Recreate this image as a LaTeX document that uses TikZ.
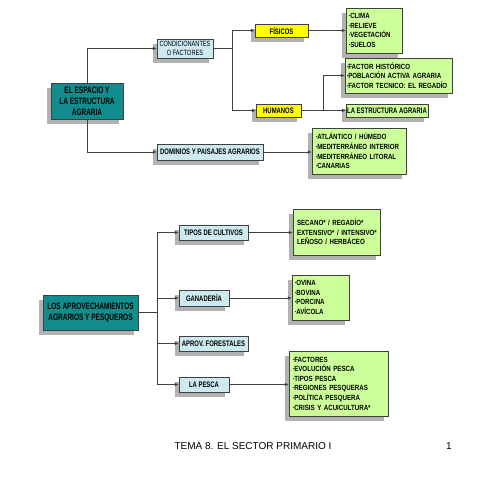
\documentclass[tikz,border=0pt]{standalone}
\usepackage{fontspec}
\setmainfont{Liberation Sans}
\newfontfamily\nar{Liberation Sans}[FakeStretch=0.82]
\newfontfamily\narb{Liberation Sans}[FakeStretch=0.74]
\newfontfamily\narh{Liberation Sans}[FakeStretch=0.7]
\usetikzlibrary{arrows.meta,shadows}
\definecolor{esteal}{RGB}{18,140,140}
\definecolor{escyan}{RGB}{204,234,240}
\definecolor{esyel}{RGB}{255,255,0}
\definecolor{esgrn}{RGB}{204,255,153}
\definecolor{esshd}{RGB}{178,178,178}
\newcommand{\bulit}{\raisebox{1pt}{\fontsize{4.5}{5}\selectfont\textbullet}}
\hyphenpenalty=10000

\begin{document}
\begin{tikzpicture}[x=1pt,y=-1pt,>={Latex[length=4pt,width=3.5pt]},
  box/.style={draw=black!75,line width=0.5pt,inner sep=1pt,align=center,
              font=\narb\bfseries\fontsize{8}{9}\selectfont,
              drop shadow={shadow xshift=-4pt,shadow yshift=-5pt,fill=esshd,opacity=1}},
  head/.style={box,fill=esteal,font=\narh\bfseries\fontsize{9.3}{10.8}\selectfont},
  sub/.style={box,fill=escyan},
  yel/.style={box,fill=esyel},
  lst/.style={box,fill=esgrn,align=left,inner xsep=3pt,
              font=\nar\bfseries\fontsize{7.5}{9.6}\selectfont},
  link/.style={draw=black!75,line width=0.7pt}]
  \useasboundingbox (0,0) rectangle (480,480);
  \node[head,minimum width=72,minimum height=36] (esp) at (87,101) {EL ESPACIO Y\\LA ESTRUCTURA\\AGRARIA};
  \node[sub,font=\narb\fontsize{7.6}{9.5}\selectfont,minimum width=56,minimum height=19] (cond) at (185,48.5) {CONDICIONANTES\\O FACTORES};
  \node[yel,minimum width=53,minimum height=13] (fis) at (281.5,30.5) {FÍSICOS};
  \node[yel,minimum width=45,minimum height=13] (hum) at (278.5,110.5) {HUMANOS};
  \node[lst,text width=50,minimum height=45] (clima) at (374,30.5)
       {\bulit CLIMA\\\bulit RELIEVE\\\bulit VEGETACIÓN\\\bulit SUELOS};
  \node[lst,inner xsep=2pt,text width=103,minimum height=35] (hist) at (398.5,75.5)
       {\bulit FACTOR HISTÓRICO\\\bulit POBLACIÓN ACTIVA AGRARIA\\\bulit FACTOR TECNICO: EL REGADÍO};
  \node[box,fill=esgrn,minimum width=82,minimum height=13] (estr) at (387,110.5) {LA ESTRUCTURA AGRARIA};
  \node[sub,minimum width=106,minimum height=16] (dom) at (210,152) {DOMINIOS Y PAISAJES AGRARIOS};
  \node[lst,inner xsep=4pt,text width=86,minimum height=46] (atl) at (359,151)
       {\bulit ATLÁNTICO / HÚMEDO\\\bulit MEDITERRÁNEO INTERIOR\\\bulit MEDITERRÁNEO LITORAL\\\bulit CANARIAS};

  \node[head,minimum width=95,minimum height=35] (apro) at (90.5,312.5) {LOS APROVECHAMIENTOS\\AGRARIOS Y PESQUEROS};
  \node[sub,minimum width=69,minimum height=15] (tipos) at (213.5,232.5) {TIPOS DE CULTIVOS};
  \node[sub,minimum width=50,minimum height=16] (gan) at (204,298) {GANADERÍA};
  \node[sub,minimum width=69,minimum height=15] (forest) at (213.5,343.5) {APROV. FORESTALES};
  \node[sub,minimum width=50,minimum height=15] (pesca) at (204,384.5) {LA PESCA};
  \node[lst,inner xsep=4pt,text width=79,minimum height=46] (sec) at (336.5,232)
       {SECANO* / REGADÍO*\\\mbox{EXTENSIVO* / INTENSIVO*}\\LEÑOSO / HERBÁCEO};
  \node[lst,text width=51,minimum height=45] (ovi) at (320.5,297.5)
       {\bulit OVINA\\\bulit BOVINA\\\bulit PORCINA\\\bulit AVÍCOLA};
  \node[lst,inner xsep=4pt,text width=91,minimum height=65] (pesq) at (338.5,383.5)
       {\bulit FACTORES\\\bulit EVOLUCIÓN PESCA\\\bulit TIPOS PESCA\\\bulit REGIONES PESQUERAS\\\bulit POLÍTICA PESQUERA\\\bulit CRISIS Y ACUICULTURA*};

  \node[font=\fontsize{10}{12}\selectfont,anchor=base west] (tema) at (171,449) {TEMA 8. EL SECTOR PRIMARIO I};
  \node[font=\fontsize{10}{12}\selectfont,anchor=base] (pag) at (449,449) {1};

  \coordinate (j1) at (232,48.5);
  \coordinate (j2) at (323,110.5);
  \coordinate (j3) at (157,312.5);
  \draw[link,->] (esp.north) |- (cond.west);
  \draw[link,->] (esp.south) |- (dom.west);
  \draw[link] (cond.east) -- (j1);
  \draw[link,->] (j1) |- (fis.west);
  \draw[link,->] (j1) |- (hum.west);
  \draw[link,->] (fis.east) -- (fis.east -| clima.west);
  \draw[link,->] (hum.east) -- (estr.west);
  \draw[link,->] (j2) |- (hist.west);
  \draw[link,->] (dom.east) -- (dom.east -| atl.west);
  \draw[link] (apro.east) -- (j3);
  \draw[link,->] (j3) |- (tipos.west);
  \draw[link,->] (j3) |- (gan.west);
  \draw[link,->] (j3) |- (forest.west);
  \draw[link,->] (j3) |- (pesca.west);
  \draw[link,->] (tipos.east) -- (tipos.east -| sec.west);
  \draw[link,->] (gan.east) -- (gan.east -| ovi.west);
  \draw[link,->] (pesca.east) -- (pesca.east -| pesq.west);
\end{tikzpicture}
\end{document}
